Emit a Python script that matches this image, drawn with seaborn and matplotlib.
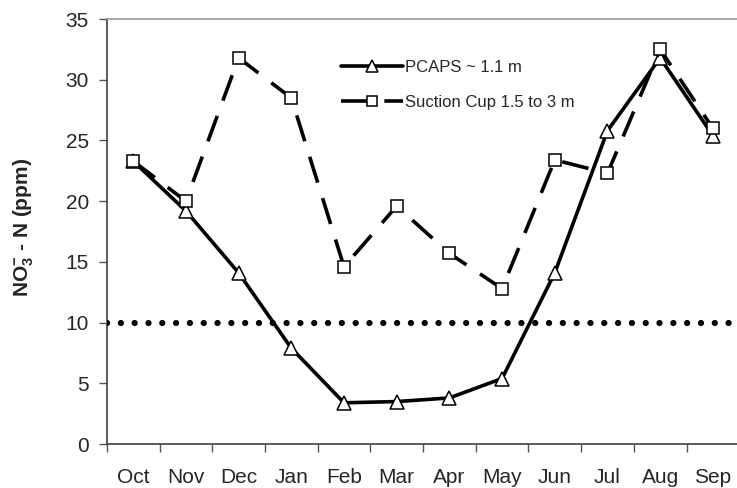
import numpy as np
import pandas as pd
import seaborn as sns
import matplotlib.pyplot as plt

months = ['Oct', 'Nov', 'Dec', 'Jan', 'Feb', 'Mar', 'Apr', 'May', 'Jun', 'Jul', 'Aug', 'Sep']
pcaps = [23.3, 19.2, 14.1, 7.9, 3.4, 3.5, 3.8, 5.4, 14.1, 25.8, 31.8, 25.4]
suction = [23.3, 20.0, 31.8, 28.5, 14.6, 19.6, 15.7, 12.8, 23.4, 22.3, 32.5, 26.0]
limit = 10

sns.set_style('white')
plt.rcParams['font.family'] = ['Liberation Sans', 'DejaVu Sans']
plt.rcParams['mathtext.fontset'] = 'custom'
plt.rcParams['mathtext.rm'] = 'Liberation Sans:bold'
plt.rcParams['mathtext.bf'] = 'Liberation Sans:bold'
plt.rcParams['mathtext.default'] = 'bf'

df = pd.DataFrame({'pos': np.arange(len(months)), 'month': months,
                   'pcaps': pcaps, 'suction': suction})

fig = plt.figure(figsize=(7.37, 4.88), dpi=100)
ax = fig.add_axes([0.145, 0.090, 0.858, 0.871])

# 10 ppm drinking water limit
ax.axhline(limit, color='black', lw=4.5, linestyle=(0, (0.01, 2.2)),
           dash_capstyle='round', zorder=4)

sns.lineplot(data=df, x='pos', y='pcaps', ax=ax, color='black', lw=2.6,
             marker='^', markersize=9.5, markerfacecolor='white',
             markeredgecolor='black', markeredgewidth=1.1,
             label='PCAPS ~ 1.1 m', zorder=3)
sns.lineplot(data=df, x='pos', y='suction', ax=ax, color='black', lw=2.6,
             linestyle=(0, (7.5, 4.5)),
             marker='s', markersize=8.5, markerfacecolor='white',
             markeredgecolor='black', markeredgewidth=1.1,
             label='Suction Cup 1.5 to 3 m', zorder=3)

ax.set_xlim(-0.5, 11.5)
ax.set_ylim(0, 35)
ax.set_yticks(range(0, 36, 5))
ax.set_xticks(df['pos'])
ax.set_xticklabels(months)
ax.set_xticks(np.arange(-0.5, 12, 1), minor=True)
ax.tick_params(axis='x', which='major', length=0, pad=17, labelsize=15)
ax.tick_params(axis='x', which='minor', length=6, width=1, color='#555555',
               direction='out', bottom=True)
ax.tick_params(axis='y', length=6, width=1, color='#555555', direction='out',
               left=True, pad=7, labelsize=15)
ax.set_xlabel('')
ax.set_ylabel(r'NO$_3^{-}$ - N (ppm)', fontsize=15, fontweight='bold')
ax.yaxis.set_label_coords(-0.112, 0.51)

for side in ['left', 'bottom']:
    ax.spines[side].set_color('#404040')
    ax.spines[side].set_linewidth(1.2)
ax.spines['top'].set_color('#999999')
ax.spines['top'].set_linewidth(1.2)
ax.spines['right'].set_visible(False)

ax.legend(loc='upper left', bbox_to_anchor=(0.36, 0.92), frameon=False,
          fontsize=12, handlelength=3.7, handletextpad=0.1,
          labelspacing=1.2, borderaxespad=0, markerscale=0.9)

fig.savefig('out.png', dpi=100)
